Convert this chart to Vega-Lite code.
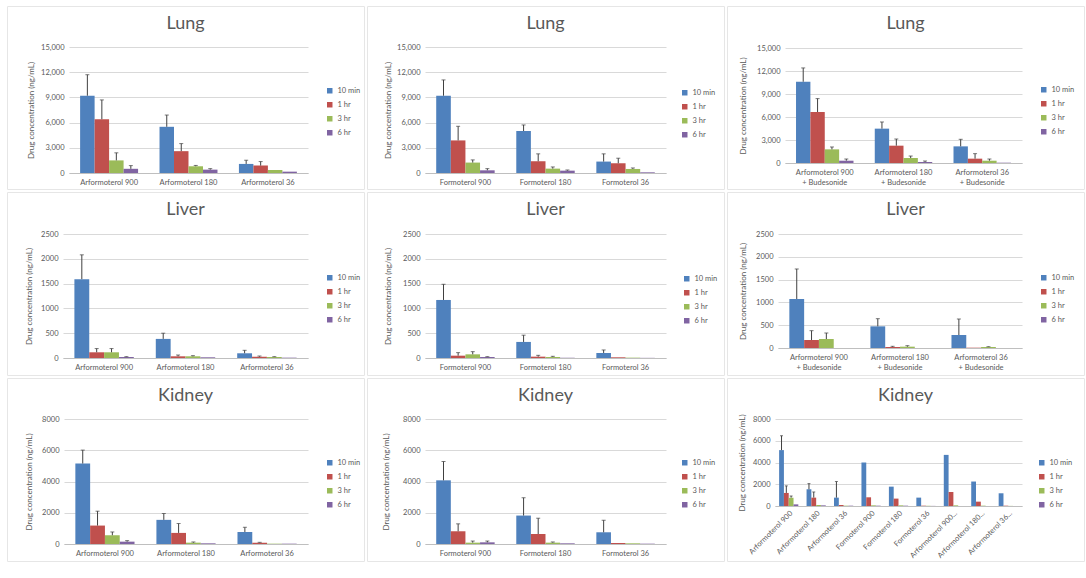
{
  "$schema": "https://vega.github.io/schema/vega-lite/v6.json",
  "padding": {"left": 6, "top": 5, "right": 0, "bottom": 0},
  "background": "white",
  "bounds": "flush",
  "columns": 3,
  "spacing": {"row": 3, "column": 3},
  "resolve": {"scale": {"x": "independent", "y": "independent", "xOffset": "independent", "color": "independent"}, "legend": {"color": "independent"}, "axis": {"x": "independent", "y": "independent"}},
  "datasets": {
    "lungA": [
      {"drug": "Arformoterol 900", "time": "10 min", "conc": 9200, "upper": 11700},
      {"drug": "Arformoterol 900", "time": "1 hr", "conc": 6400, "upper": 8700},
      {"drug": "Arformoterol 900", "time": "3 hr", "conc": 1500, "upper": 2400},
      {"drug": "Arformoterol 900", "time": "6 hr", "conc": 500, "upper": 880},
      {"drug": "Arformoterol 180", "time": "10 min", "conc": 5500, "upper": 6900},
      {"drug": "Arformoterol 180", "time": "1 hr", "conc": 2600, "upper": 3500},
      {"drug": "Arformoterol 180", "time": "3 hr", "conc": 800, "upper": 900},
      {"drug": "Arformoterol 180", "time": "6 hr", "conc": 400, "upper": 520},
      {"drug": "Arformoterol 36", "time": "10 min", "conc": 1080, "upper": 1520},
      {"drug": "Arformoterol 36", "time": "1 hr", "conc": 880, "upper": 1360},
      {"drug": "Arformoterol 36", "time": "3 hr", "conc": 360, "upper": 360},
      {"drug": "Arformoterol 36", "time": "6 hr", "conc": 160, "upper": 160}
    ],
    "lungF": [
      {"drug": "Formoterol 900", "time": "10 min", "conc": 9200, "upper": 11080},
      {"drug": "Formoterol 900", "time": "1 hr", "conc": 3880, "upper": 5560},
      {"drug": "Formoterol 900", "time": "3 hr", "conc": 1240, "upper": 1560},
      {"drug": "Formoterol 900", "time": "6 hr", "conc": 320, "upper": 520},
      {"drug": "Formoterol 180", "time": "10 min", "conc": 5000, "upper": 5720},
      {"drug": "Formoterol 180", "time": "1 hr", "conc": 1400, "upper": 2280},
      {"drug": "Formoterol 180", "time": "3 hr", "conc": 520, "upper": 720},
      {"drug": "Formoterol 180", "time": "6 hr", "conc": 280, "upper": 360},
      {"drug": "Formoterol 36", "time": "10 min", "conc": 1360, "upper": 2280},
      {"drug": "Formoterol 36", "time": "1 hr", "conc": 1160, "upper": 1760},
      {"drug": "Formoterol 36", "time": "3 hr", "conc": 480, "upper": 600},
      {"drug": "Formoterol 36", "time": "6 hr", "conc": 80, "upper": 80}
    ],
    "lungAB": [
      {"drug": "Arformoterol 900 + Budesonide", "time": "10 min", "conc": 10600, "upper": 12400},
      {"drug": "Arformoterol 900 + Budesonide", "time": "1 hr", "conc": 6650, "upper": 8400},
      {"drug": "Arformoterol 900 + Budesonide", "time": "3 hr", "conc": 1780, "upper": 2090},
      {"drug": "Arformoterol 900 + Budesonide", "time": "6 hr", "conc": 300, "upper": 520},
      {"drug": "Arformoterol 180 + Budesonide", "time": "10 min", "conc": 4480, "upper": 5350},
      {"drug": "Arformoterol 180 + Budesonide", "time": "1 hr", "conc": 2260, "upper": 3130},
      {"drug": "Arformoterol 180 + Budesonide", "time": "3 hr", "conc": 650, "upper": 910},
      {"drug": "Arformoterol 180 + Budesonide", "time": "6 hr", "conc": 130, "upper": 260},
      {"drug": "Arformoterol 36 + Budesonide", "time": "10 min", "conc": 2170, "upper": 3090},
      {"drug": "Arformoterol 36 + Budesonide", "time": "1 hr", "conc": 565, "upper": 1220},
      {"drug": "Arformoterol 36 + Budesonide", "time": "3 hr", "conc": 300, "upper": 520},
      {"drug": "Arformoterol 36 + Budesonide", "time": "6 hr", "conc": 40, "upper": 40}
    ],
    "liverA": [
      {"drug": "Arformoterol 900", "time": "10 min", "conc": 1590, "upper": 2080},
      {"drug": "Arformoterol 900", "time": "1 hr", "conc": 115, "upper": 190},
      {"drug": "Arformoterol 900", "time": "3 hr", "conc": 115, "upper": 190},
      {"drug": "Arformoterol 900", "time": "6 hr", "conc": 20, "upper": 27},
      {"drug": "Arformoterol 180", "time": "10 min", "conc": 385, "upper": 500},
      {"drug": "Arformoterol 180", "time": "1 hr", "conc": 34, "upper": 60},
      {"drug": "Arformoterol 180", "time": "3 hr", "conc": 34, "upper": 47},
      {"drug": "Arformoterol 180", "time": "6 hr", "conc": 14, "upper": 14},
      {"drug": "Arformoterol 36", "time": "10 min", "conc": 95, "upper": 155},
      {"drug": "Arformoterol 36", "time": "1 hr", "conc": 27, "upper": 40},
      {"drug": "Arformoterol 36", "time": "3 hr", "conc": 20, "upper": 27},
      {"drug": "Arformoterol 36", "time": "6 hr", "conc": 7, "upper": 7}
    ],
    "liverF": [
      {"drug": "Formoterol 900", "time": "10 min", "conc": 1170, "upper": 1486},
      {"drug": "Formoterol 900", "time": "1 hr", "conc": 47, "upper": 108},
      {"drug": "Formoterol 900", "time": "3 hr", "conc": 74, "upper": 128},
      {"drug": "Formoterol 900", "time": "6 hr", "conc": 20, "upper": 27},
      {"drug": "Formoterol 180", "time": "10 min", "conc": 324, "upper": 460},
      {"drug": "Formoterol 180", "time": "1 hr", "conc": 27, "upper": 54},
      {"drug": "Formoterol 180", "time": "3 hr", "conc": 20, "upper": 34},
      {"drug": "Formoterol 180", "time": "6 hr", "conc": 5, "upper": 5},
      {"drug": "Formoterol 36", "time": "10 min", "conc": 101, "upper": 162},
      {"drug": "Formoterol 36", "time": "1 hr", "conc": 14, "upper": 14},
      {"drug": "Formoterol 36", "time": "3 hr", "conc": 7, "upper": 7},
      {"drug": "Formoterol 36", "time": "6 hr", "conc": 3, "upper": 3}
    ],
    "liverAB": [
      {"drug": "Arformoterol 900 + Budesonide", "time": "10 min", "conc": 1075, "upper": 1733},
      {"drug": "Arformoterol 900 + Budesonide", "time": "1 hr", "conc": 175, "upper": 380},
      {"drug": "Arformoterol 900 + Budesonide", "time": "3 hr", "conc": 197, "upper": 329},
      {"drug": "Arformoterol 900 + Budesonide", "time": "6 hr", "conc": 0, "upper": 0},
      {"drug": "Arformoterol 180 + Budesonide", "time": "10 min", "conc": 475, "upper": 643},
      {"drug": "Arformoterol 180 + Budesonide", "time": "1 hr", "conc": 22, "upper": 37},
      {"drug": "Arformoterol 180 + Budesonide", "time": "3 hr", "conc": 29, "upper": 51},
      {"drug": "Arformoterol 180 + Budesonide", "time": "6 hr", "conc": 0, "upper": 0},
      {"drug": "Arformoterol 36 + Budesonide", "time": "10 min", "conc": 285, "upper": 636},
      {"drug": "Arformoterol 36 + Budesonide", "time": "1 hr", "conc": 7, "upper": 7},
      {"drug": "Arformoterol 36 + Budesonide", "time": "3 hr", "conc": 22, "upper": 29},
      {"drug": "Arformoterol 36 + Budesonide", "time": "6 hr", "conc": 0, "upper": 0}
    ],
    "kidneyA": [
      {"drug": "Arformoterol 900", "time": "10 min", "conc": 5150, "upper": 6010},
      {"drug": "Arformoterol 900", "time": "1 hr", "conc": 1180, "upper": 2100},
      {"drug": "Arformoterol 900", "time": "3 hr", "conc": 560, "upper": 770},
      {"drug": "Arformoterol 900", "time": "6 hr", "conc": 150, "upper": 215},
      {"drug": "Arformoterol 180", "time": "10 min", "conc": 1545, "upper": 1950},
      {"drug": "Arformoterol 180", "time": "1 hr", "conc": 710, "upper": 1310},
      {"drug": "Arformoterol 180", "time": "3 hr", "conc": 86, "upper": 130},
      {"drug": "Arformoterol 180", "time": "6 hr", "conc": 43, "upper": 43},
      {"drug": "Arformoterol 36", "time": "10 min", "conc": 770, "upper": 1070},
      {"drug": "Arformoterol 36", "time": "1 hr", "conc": 86, "upper": 107},
      {"drug": "Arformoterol 36", "time": "3 hr", "conc": 21, "upper": 21},
      {"drug": "Arformoterol 36", "time": "6 hr", "conc": 21, "upper": 21}
    ],
    "kidneyF": [
      {"drug": "Formoterol 900", "time": "10 min", "conc": 4075, "upper": 5280},
      {"drug": "Formoterol 900", "time": "1 hr", "conc": 815, "upper": 1290},
      {"drug": "Formoterol 900", "time": "3 hr", "conc": 86, "upper": 190},
      {"drug": "Formoterol 900", "time": "6 hr", "conc": 107, "upper": 190},
      {"drug": "Formoterol 180", "time": "10 min", "conc": 1820, "upper": 2960},
      {"drug": "Formoterol 180", "time": "1 hr", "conc": 640, "upper": 1650},
      {"drug": "Formoterol 180", "time": "3 hr", "conc": 86, "upper": 130},
      {"drug": "Formoterol 180", "time": "6 hr", "conc": 43, "upper": 43},
      {"drug": "Formoterol 36", "time": "10 min", "conc": 750, "upper": 1520},
      {"drug": "Formoterol 36", "time": "1 hr", "conc": 64, "upper": 64},
      {"drug": "Formoterol 36", "time": "3 hr", "conc": 43, "upper": 43},
      {"drug": "Formoterol 36", "time": "6 hr", "conc": 21, "upper": 21}
    ],
    "kidneyAll": [
      {"drug": "Arformoterol 900", "time": "10 min", "conc": 5140, "upper": 6460},
      {"drug": "Arformoterol 900", "time": "1 hr", "conc": 1200, "upper": 1850},
      {"drug": "Arformoterol 900", "time": "3 hr", "conc": 770, "upper": 920},
      {"drug": "Arformoterol 900", "time": "6 hr", "conc": 150, "upper": 150},
      {"drug": "Arformoterol 180", "time": "10 min", "conc": 1540, "upper": 2060},
      {"drug": "Arformoterol 180", "time": "1 hr", "conc": 770, "upper": 1290},
      {"drug": "Arformoterol 180", "time": "3 hr", "conc": 90, "upper": 90},
      {"drug": "Arformoterol 180", "time": "6 hr", "conc": 60, "upper": 60},
      {"drug": "Arformoterol 36", "time": "10 min", "conc": 770, "upper": 2250},
      {"drug": "Arformoterol 36", "time": "1 hr", "conc": 90, "upper": 90},
      {"drug": "Arformoterol 36", "time": "3 hr", "conc": 30, "upper": 30},
      {"drug": "Arformoterol 36", "time": "6 hr", "conc": 30, "upper": 30},
      {"drug": "Formoterol 900", "time": "10 min", "conc": 4000, "upper": 4000},
      {"drug": "Formoterol 900", "time": "1 hr", "conc": 800, "upper": 800},
      {"drug": "Formoterol 900", "time": "3 hr", "conc": 60, "upper": 60},
      {"drug": "Formoterol 900", "time": "6 hr", "conc": 30, "upper": 30},
      {"drug": "Formoterol 180", "time": "10 min", "conc": 1780, "upper": 1780},
      {"drug": "Formoterol 180", "time": "1 hr", "conc": 680, "upper": 680},
      {"drug": "Formoterol 180", "time": "3 hr", "conc": 60, "upper": 60},
      {"drug": "Formoterol 180", "time": "6 hr", "conc": 30, "upper": 30},
      {"drug": "Formoterol 36", "time": "10 min", "conc": 770, "upper": 770},
      {"drug": "Formoterol 36", "time": "1 hr", "conc": 30, "upper": 30},
      {"drug": "Formoterol 36", "time": "3 hr", "conc": 20, "upper": 20},
      {"drug": "Formoterol 36", "time": "6 hr", "conc": 10, "upper": 10},
      {"drug": "Arformoterol 900...", "time": "10 min", "conc": 4700, "upper": 4700},
      {"drug": "Arformoterol 900...", "time": "1 hr", "conc": 1290, "upper": 1290},
      {"drug": "Arformoterol 900...", "time": "3 hr", "conc": 60, "upper": 60},
      {"drug": "Arformoterol 900...", "time": "6 hr", "conc": 0, "upper": 0},
      {"drug": "Arformoterol 180...", "time": "10 min", "conc": 2250, "upper": 2250},
      {"drug": "Arformoterol 180...", "time": "1 hr", "conc": 400, "upper": 400},
      {"drug": "Arformoterol 180...", "time": "3 hr", "conc": 30, "upper": 30},
      {"drug": "Arformoterol 180...", "time": "6 hr", "conc": 0, "upper": 0},
      {"drug": "Arformoterol 36...", "time": "10 min", "conc": 1170, "upper": 1170},
      {"drug": "Arformoterol 36...", "time": "1 hr", "conc": 30, "upper": 30},
      {"drug": "Arformoterol 36...", "time": "3 hr", "conc": 10, "upper": 10},
      {"drug": "Arformoterol 36...", "time": "6 hr", "conc": 0, "upper": 0}
    ]
  },
  "concat": [
    {
      "width": 357, "height": 183,
      "data": {"name": "lungA"},
      "title": "Lung",
      "encoding": {
        "x": {"field": "drug", "type": "nominal", "sort": null, "title": null,
              "scale": {"range": [62, 301], "paddingInner": 0.27, "paddingOuter": 0.14},
              "axis": {"offset": -16}},
        "xOffset": {"field": "time", "type": "nominal", "sort": ["10 min", "1 hr", "3 hr", "6 hr"], "scale": {"paddingInner": 0, "paddingOuter": 0}},
        "y": {"field": "conc", "type": "quantitative", "title": "Drug concentration (ng/mL)",
              "scale": {"domain": [0, 15000], "range": [167, 41], "nice": false, "zero": true},
              "axis": {"offset": -62, "values": [0, 3000, 6000, 9000, 12000, 15000], "format": ",d", "titleX": -38, "titleY": 104}}
      },
      "layer": [
        {"mark": {"type": "bar"},
         "encoding": {"color": {"field": "time", "type": "nominal", "sort": ["10 min", "1 hr", "3 hr", "6 hr"],
           "scale": {"domain": ["10 min", "1 hr", "3 hr", "6 hr"], "range": ["#4F81BD", "#C0504D", "#9BBB59", "#8064A2"]},
           "legend": {"legendX": 319, "legendY": 81}}}},
        {"transform": [{"filter": "datum.upper > datum.conc"}],
         "mark": {"type": "rule", "color": "#404040", "strokeWidth": 1},
         "encoding": {"y2": {"field": "upper"}}},
        {"transform": [{"filter": "datum.upper > datum.conc"}],
         "mark": {"type": "tick", "color": "#404040", "thickness": 1, "size": 4},
         "encoding": {"y": {"field": "upper", "type": "quantitative", "title": "Drug concentration (ng/mL)"}}}
      ]
    },
    {
      "width": 357, "height": 183,
      "data": {"name": "lungF"},
      "title": "Lung",
      "encoding": {
        "x": {"field": "drug", "type": "nominal", "sort": null, "title": null,
              "scale": {"range": [58, 299], "paddingInner": 0.27, "paddingOuter": 0.14},
              "axis": {"offset": -16}},
        "xOffset": {"field": "time", "type": "nominal", "sort": ["10 min", "1 hr", "3 hr", "6 hr"], "scale": {"paddingInner": 0, "paddingOuter": 0}},
        "y": {"field": "conc", "type": "quantitative", "title": "Drug concentration (ng/mL)",
              "scale": {"domain": [0, 15000], "range": [167, 41], "nice": false, "zero": true},
              "axis": {"offset": -58, "values": [0, 3000, 6000, 9000, 12000, 15000], "format": ",d", "titleX": -37, "titleY": 104}}
      },
      "layer": [
        {"mark": {"type": "bar"},
         "encoding": {"color": {"field": "time", "type": "nominal", "sort": ["10 min", "1 hr", "3 hr", "6 hr"],
           "scale": {"domain": ["10 min", "1 hr", "3 hr", "6 hr"], "range": ["#4F81BD", "#C0504D", "#9BBB59", "#8064A2"]},
           "legend": {"legendX": 314, "legendY": 83}}}},
        {"transform": [{"filter": "datum.upper > datum.conc"}],
         "mark": {"type": "rule", "color": "#404040", "strokeWidth": 1},
         "encoding": {"y2": {"field": "upper"}}},
        {"transform": [{"filter": "datum.upper > datum.conc"}],
         "mark": {"type": "tick", "color": "#404040", "thickness": 1, "size": 4},
         "encoding": {"y": {"field": "upper", "type": "quantitative", "title": "Drug concentration (ng/mL)"}}}
      ]
    },
    {
      "width": 357, "height": 183,
      "data": {"name": "lungAB"},
      "title": "Lung",
      "encoding": {
        "x": {"field": "drug", "type": "nominal", "sort": null, "title": null,
              "scale": {"range": [58, 295], "paddingInner": 0.27, "paddingOuter": 0.14},
              "axis": {"offset": -26, "labelExpr": "[replace(datum.label, ' + Budesonide', ''), '+ Budesonide']"}},
        "xOffset": {"field": "time", "type": "nominal", "sort": ["10 min", "1 hr", "3 hr", "6 hr"], "scale": {"paddingInner": 0, "paddingOuter": 0}},
        "y": {"field": "conc", "type": "quantitative", "title": "Drug concentration (ng/mL)",
              "scale": {"domain": [0, 15000], "range": [157, 42], "nice": false, "zero": true},
              "axis": {"offset": -58, "values": [0, 3000, 6000, 9000, 12000, 15000], "format": ",d", "titleX": -42, "titleY": 99.5}}
      },
      "layer": [
        {"mark": {"type": "bar"},
         "encoding": {"color": {"field": "time", "type": "nominal", "sort": ["10 min", "1 hr", "3 hr", "6 hr"],
           "scale": {"domain": ["10 min", "1 hr", "3 hr", "6 hr"], "range": ["#4F81BD", "#C0504D", "#9BBB59", "#8064A2"]},
           "legend": {"legendX": 313, "legendY": 80}}}},
        {"transform": [{"filter": "datum.upper > datum.conc"}],
         "mark": {"type": "rule", "color": "#404040", "strokeWidth": 1},
         "encoding": {"y2": {"field": "upper"}}},
        {"transform": [{"filter": "datum.upper > datum.conc"}],
         "mark": {"type": "tick", "color": "#404040", "thickness": 1, "size": 4},
         "encoding": {"y": {"field": "upper", "type": "quantitative", "title": "Drug concentration (ng/mL)"}}}
      ]
    },
    {
      "width": 357, "height": 183,
      "data": {"name": "liverA"},
      "title": "Liver",
      "encoding": {
        "x": {"field": "drug", "type": "nominal", "sort": null, "title": null,
              "scale": {"range": [56, 301], "paddingInner": 0.27, "paddingOuter": 0.14},
              "axis": {"offset": -17}},
        "xOffset": {"field": "time", "type": "nominal", "sort": ["10 min", "1 hr", "3 hr", "6 hr"], "scale": {"paddingInner": 0, "paddingOuter": 0}},
        "y": {"field": "conc", "type": "quantitative", "title": "Drug concentration (ng/mL)",
              "scale": {"domain": [0, 2500], "range": [166, 42], "nice": false, "zero": true},
              "axis": {"offset": -56, "values": [0, 500, 1000, 1500, 2000, 2500], "format": "d", "titleX": -34, "titleY": 104}}
      },
      "layer": [
        {"mark": {"type": "bar"},
         "encoding": {"color": {"field": "time", "type": "nominal", "sort": ["10 min", "1 hr", "3 hr", "6 hr"],
           "scale": {"domain": ["10 min", "1 hr", "3 hr", "6 hr"], "range": ["#4F81BD", "#C0504D", "#9BBB59", "#8064A2"]},
           "legend": {"legendX": 319, "legendY": 82}}}},
        {"transform": [{"filter": "datum.upper > datum.conc"}],
         "mark": {"type": "rule", "color": "#404040", "strokeWidth": 1},
         "encoding": {"y2": {"field": "upper"}}},
        {"transform": [{"filter": "datum.upper > datum.conc"}],
         "mark": {"type": "tick", "color": "#404040", "thickness": 1, "size": 4},
         "encoding": {"y": {"field": "upper", "type": "quantitative", "title": "Drug concentration (ng/mL)"}}}
      ]
    },
    {
      "width": 357, "height": 183,
      "data": {"name": "liverF"},
      "title": "Liver",
      "encoding": {
        "x": {"field": "drug", "type": "nominal", "sort": null, "title": null,
              "scale": {"range": [58, 299], "paddingInner": 0.27, "paddingOuter": 0.14},
              "axis": {"offset": -17}},
        "xOffset": {"field": "time", "type": "nominal", "sort": ["10 min", "1 hr", "3 hr", "6 hr"], "scale": {"paddingInner": 0, "paddingOuter": 0}},
        "y": {"field": "conc", "type": "quantitative", "title": "Drug concentration (ng/mL)",
              "scale": {"domain": [0, 2500], "range": [166, 42], "nice": false, "zero": true},
              "axis": {"offset": -58, "values": [0, 500, 1000, 1500, 2000, 2500], "format": "d", "titleX": -37, "titleY": 104}}
      },
      "layer": [
        {"mark": {"type": "bar"},
         "encoding": {"color": {"field": "time", "type": "nominal", "sort": ["10 min", "1 hr", "3 hr", "6 hr"],
           "scale": {"domain": ["10 min", "1 hr", "3 hr", "6 hr"], "range": ["#4F81BD", "#C0504D", "#9BBB59", "#8064A2"]},
           "legend": {"legendX": 316, "legendY": 83}}}},
        {"transform": [{"filter": "datum.upper > datum.conc"}],
         "mark": {"type": "rule", "color": "#404040", "strokeWidth": 1},
         "encoding": {"y2": {"field": "upper"}}},
        {"transform": [{"filter": "datum.upper > datum.conc"}],
         "mark": {"type": "tick", "color": "#404040", "thickness": 1, "size": 4},
         "encoding": {"y": {"field": "upper", "type": "quantitative", "title": "Drug concentration (ng/mL)"}}}
      ]
    },
    {
      "width": 357, "height": 183,
      "data": {"name": "liverAB"},
      "title": "Liver",
      "encoding": {
        "x": {"field": "drug", "type": "nominal", "sort": null, "title": null,
              "scale": {"range": [51, 295], "paddingInner": 0.27, "paddingOuter": 0.14},
              "axis": {"offset": -27, "labelExpr": "[replace(datum.label, ' + Budesonide', ''), '+ Budesonide']"}},
        "xOffset": {"field": "time", "type": "nominal", "sort": ["10 min", "1 hr", "3 hr", "6 hr"], "scale": {"paddingInner": 0, "paddingOuter": 0}},
        "y": {"field": "conc", "type": "quantitative", "title": "Drug concentration (ng/mL)",
              "scale": {"domain": [0, 2500], "range": [156, 42], "nice": false, "zero": true},
              "axis": {"offset": -51, "values": [0, 500, 1000, 1500, 2000, 2500], "format": "d", "titleX": -35, "titleY": 99}}
      },
      "layer": [
        {"mark": {"type": "bar"},
         "encoding": {"color": {"field": "time", "type": "nominal", "sort": ["10 min", "1 hr", "3 hr", "6 hr"],
           "scale": {"domain": ["10 min", "1 hr", "3 hr", "6 hr"], "range": ["#4F81BD", "#C0504D", "#9BBB59", "#8064A2"]},
           "legend": {"legendX": 313, "legendY": 82}}}},
        {"transform": [{"filter": "datum.upper > datum.conc"}],
         "mark": {"type": "rule", "color": "#404040", "strokeWidth": 1},
         "encoding": {"y2": {"field": "upper"}}},
        {"transform": [{"filter": "datum.upper > datum.conc"}],
         "mark": {"type": "tick", "color": "#404040", "thickness": 1, "size": 4},
         "encoding": {"y": {"field": "upper", "type": "quantitative", "title": "Drug concentration (ng/mL)"}}}
      ]
    },
    {
      "width": 357, "height": 183,
      "data": {"name": "kidneyA"},
      "title": "Kidney",
      "encoding": {
        "x": {"field": "drug", "type": "nominal", "sort": null, "title": null,
              "scale": {"range": [57, 301], "paddingInner": 0.27, "paddingOuter": 0.14},
              "axis": {"offset": -17}},
        "xOffset": {"field": "time", "type": "nominal", "sort": ["10 min", "1 hr", "3 hr", "6 hr"], "scale": {"paddingInner": 0, "paddingOuter": 0}},
        "y": {"field": "conc", "type": "quantitative", "title": "Drug concentration (ng/mL)",
              "scale": {"domain": [0, 8000], "range": [166, 41], "nice": false, "zero": true},
              "axis": {"offset": -57, "values": [0, 2000, 4000, 6000, 8000], "format": "d", "titleX": -35, "titleY": 103.5}}
      },
      "layer": [
        {"mark": {"type": "bar"},
         "encoding": {"color": {"field": "time", "type": "nominal", "sort": ["10 min", "1 hr", "3 hr", "6 hr"],
           "scale": {"domain": ["10 min", "1 hr", "3 hr", "6 hr"], "range": ["#4F81BD", "#C0504D", "#9BBB59", "#8064A2"]},
           "legend": {"legendX": 319, "legendY": 81}}}},
        {"transform": [{"filter": "datum.upper > datum.conc"}],
         "mark": {"type": "rule", "color": "#404040", "strokeWidth": 1},
         "encoding": {"y2": {"field": "upper"}}},
        {"transform": [{"filter": "datum.upper > datum.conc"}],
         "mark": {"type": "tick", "color": "#404040", "thickness": 1, "size": 4},
         "encoding": {"y": {"field": "upper", "type": "quantitative", "title": "Drug concentration (ng/mL)"}}}
      ]
    },
    {
      "width": 357, "height": 183,
      "data": {"name": "kidneyF"},
      "title": "Kidney",
      "encoding": {
        "x": {"field": "drug", "type": "nominal", "sort": null, "title": null,
              "scale": {"range": [58, 299], "paddingInner": 0.27, "paddingOuter": 0.14},
              "axis": {"offset": -17}},
        "xOffset": {"field": "time", "type": "nominal", "sort": ["10 min", "1 hr", "3 hr", "6 hr"], "scale": {"paddingInner": 0, "paddingOuter": 0}},
        "y": {"field": "conc", "type": "quantitative", "title": "Drug concentration (ng/mL)",
              "scale": {"domain": [0, 8000], "range": [166, 41], "nice": false, "zero": true},
              "axis": {"offset": -58, "values": [0, 2000, 4000, 6000, 8000], "format": "d", "titleX": -39, "titleY": 103.5}}
      },
      "layer": [
        {"mark": {"type": "bar"},
         "encoding": {"color": {"field": "time", "type": "nominal", "sort": ["10 min", "1 hr", "3 hr", "6 hr"],
           "scale": {"domain": ["10 min", "1 hr", "3 hr", "6 hr"], "range": ["#4F81BD", "#C0504D", "#9BBB59", "#8064A2"]},
           "legend": {"legendX": 314, "legendY": 81}}}},
        {"transform": [{"filter": "datum.upper > datum.conc"}],
         "mark": {"type": "rule", "color": "#404040", "strokeWidth": 1},
         "encoding": {"y2": {"field": "upper"}}},
        {"transform": [{"filter": "datum.upper > datum.conc"}],
         "mark": {"type": "tick", "color": "#404040", "thickness": 1, "size": 4},
         "encoding": {"y": {"field": "upper", "type": "quantitative", "title": "Drug concentration (ng/mL)"}}}
      ]
    },
    {
      "width": 357, "height": 183,
      "data": {"name": "kidneyAll"},
      "title": "Kidney",
      "encoding": {
        "x": {"field": "drug", "type": "nominal", "sort": null, "title": null,
              "scale": {"range": [48, 295], "paddingInner": 0.3, "paddingOuter": 0.15},
              "axis": {"offset": -55, "labelAngle": -45, "labelAlign": "right", "labelBaseline": "top", "labelPadding": 3}},
        "xOffset": {"field": "time", "type": "nominal", "sort": ["10 min", "1 hr", "3 hr", "6 hr"], "scale": {"paddingInner": 0, "paddingOuter": 0}},
        "y": {"field": "conc", "type": "quantitative", "title": "Drug concentration (ng/mL)",
              "scale": {"domain": [0, 8000], "range": [128, 41], "nice": false, "zero": true},
              "axis": {"offset": -48, "values": [0, 2000, 4000, 6000, 8000], "format": "d", "titleX": -33, "titleY": 84.5}}
      },
      "layer": [
        {"mark": {"type": "bar"},
         "encoding": {"color": {"field": "time", "type": "nominal", "sort": ["10 min", "1 hr", "3 hr", "6 hr"],
           "scale": {"domain": ["10 min", "1 hr", "3 hr", "6 hr"], "range": ["#4F81BD", "#C0504D", "#9BBB59", "#8064A2"]},
           "legend": {"legendX": 311, "legendY": 81}}}},
        {"transform": [{"filter": "datum.upper > datum.conc"}],
         "mark": {"type": "rule", "color": "#404040", "strokeWidth": 1},
         "encoding": {"y2": {"field": "upper"}}},
        {"transform": [{"filter": "datum.upper > datum.conc"}],
         "mark": {"type": "tick", "color": "#404040", "thickness": 1, "size": 3},
         "encoding": {"y": {"field": "upper", "type": "quantitative", "title": "Drug concentration (ng/mL)"}}}
      ]
    }
  ],
  "config": {
    "font": "Lato",
    "view": {"stroke": "#e6e6e6", "strokeWidth": 1},
    "title": {"fontSize": 18, "fontWeight": "normal", "color": "#595959", "font": "Lato", "anchor": "middle", "offset": -27, "baseline": "alphabetic"},
    "axis": {"labelFont": "Lato", "labelFontSize": 7.5, "labelColor": "#595959", "titleFont": "Lato", "titleFontSize": 8, "titleFontWeight": "normal", "titleColor": "#595959", "ticks": false, "gridColor": "#d9d9d9", "gridWidth": 1, "domainColor": "#bfbfbf", "labelPadding": 5},
    "axisX": {"grid": false, "labelAngle": 0, "domain": true, "labelLineHeight": 10},
    "axisY": {"grid": true, "domain": false, "titleBaseline": "middle", "titleAngle": -90},
    "legend": {"orient": "none", "title": null, "symbolType": "square", "symbolSize": 30, "labelFont": "Lato", "labelFontSize": 7.5, "labelColor": "#595959", "rowPadding": 5, "labelOffset": 4},
    "bar": {"stroke": null},
    "tick": {"bandSize": 4}
  }
}
